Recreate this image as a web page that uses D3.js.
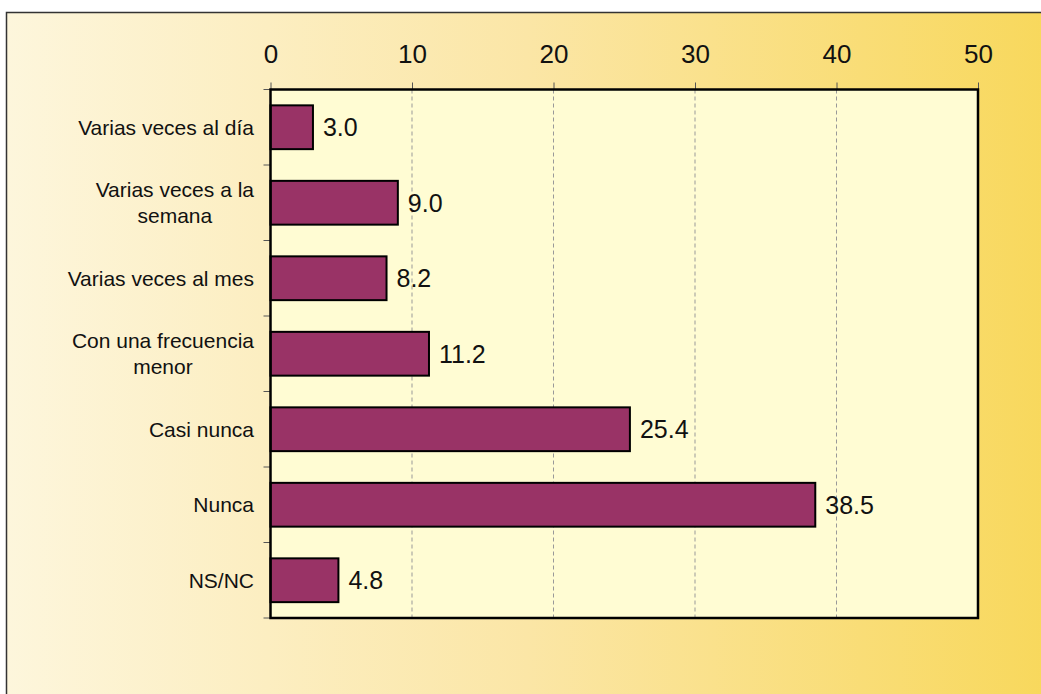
<!DOCTYPE html>
<html>
<head>
<meta charset="utf-8">
<script src="https://cdn.jsdelivr.net/npm/d3@7"></script>
<style>
  body { margin: 0; background: #fff; }
  text { font-family: Arial, "Liberation Sans", sans-serif; fill: #111; }
</style>
</head>
<body>
<div class="chart"></div>
<script>
var categories = [
  "Varias veces al día",
  "Varias veces a la|semana",
  "Varias veces al mes",
  "Con una frecuencia|menor",
  "Casi nunca",
  "Nunca",
  "NS/NC"
];
var values = [3.0, 9.0, 8.2, 11.2, 25.4, 38.5, 4.8];
var tickValues = [0, 10, 20, 30, 40, 50];

var svgWidth = 1041;
var svgHeight = 694;

var plot = { left: 270.5, right: 978, top: 89.5, bottom: 618 };

var svg = d3.select(".chart")
  .append("svg")
  .attr("width", svgWidth)
  .attr("height", svgHeight);

// background gradient
var defs = svg.append("defs");
var grad = defs.append("linearGradient")
  .attr("id", "bg")
  .attr("x1", "0%").attr("x2", "100%")
  .attr("y1", "0%").attr("y2", "0%");
grad.append("stop").attr("offset", "0%").attr("stop-color", "#fdf6dc");
grad.append("stop").attr("offset", "50%").attr("stop-color", "#fbe6a6");
grad.append("stop").attr("offset", "100%").attr("stop-color", "#f8d85c");

svg.append("rect")
  .attr("x", 6.5).attr("y", 12.5)
  .attr("width", svgWidth).attr("height", svgHeight)
  .attr("fill", "url(#bg)")
  .attr("stroke", "#333")
  .attr("stroke-width", 1.5);

// scales
var xScale = d3.scaleLinear()
  .domain([0, 50])
  .range([plot.left, plot.right]);

var yScale = d3.scaleBand()
  .domain(categories)
  .range([plot.top, plot.bottom])
  .paddingInner(0.42)
  .paddingOuter(0.21);

// plot area
svg.append("rect")
  .attr("x", plot.left).attr("y", plot.top)
  .attr("width", plot.right - plot.left)
  .attr("height", plot.bottom - plot.top)
  .attr("fill", "#fffcd3");

// gridlines
svg.append("g")
  .selectAll("line")
  .data(tickValues.slice(1, -1))
  .enter()
  .append("line")
  .attr("x1", d => xScale(d)).attr("x2", d => xScale(d))
  .attr("y1", plot.top).attr("y2", plot.bottom)
  .attr("stroke", "#999")
  .attr("stroke-width", 1)
  .attr("stroke-dasharray", "4,3");

// top axis
var topAxis = d3.axisTop(xScale)
  .tickValues(tickValues)
  .tickSizeInner(7)
  .tickSizeOuter(0)
  .tickPadding(20);

var axisG = svg.append("g")
  .attr("transform", `translate(0, ${plot.top})`)
  .call(topAxis);
axisG.select(".domain").remove();
axisG.selectAll(".tick line").attr("stroke", "#555");
axisG.selectAll(".tick text")
  .attr("font-size", 26)
  .attr("font-family", "Arial, 'Liberation Sans', sans-serif")
  .attr("fill", "#111");

// left ticks at band boundaries
var step = yScale.step();
svg.append("g")
  .selectAll("line")
  .data(d3.range(categories.length + 1))
  .enter()
  .append("line")
  .attr("x1", plot.left - 7).attr("x2", plot.left)
  .attr("y1", i => plot.top + i * step)
  .attr("y2", i => plot.top + i * step)
  .attr("stroke", "#555");

// bars
svg.append("g")
  .selectAll("rect")
  .data(values)
  .enter()
  .append("rect")
  .attr("x", xScale(0))
  .attr("y", (d, i) => yScale(categories[i]))
  .attr("width", d => xScale(d) - xScale(0))
  .attr("height", yScale.bandwidth())
  .attr("fill", "#993366")
  .attr("stroke", "#000")
  .attr("stroke-width", 2);

// value labels
svg.append("g")
  .selectAll("text")
  .data(values)
  .enter()
  .append("text")
  .attr("x", d => xScale(d) + 10)
  .attr("y", (d, i) => yScale(categories[i]) + yScale.bandwidth() / 2)
  .attr("dy", "0.36em")
  .attr("font-size", 25)
  .text(d => d.toFixed(1));

// category labels (multi-line block, right aligned, lines centred)
var labelRight = 254;
var lineH = 26;
categories.forEach(function(c) {
  var lines = c.split("|");
  var cy = yScale(c) + yScale.bandwidth() / 2;
  var g = svg.append("g");
  var texts = lines.map(function(l, j) {
    return g.append("text")
      .attr("y", cy + (j - (lines.length - 1) / 2) * lineH)
      .attr("dy", "0.36em")
      .attr("font-size", 21)
      .attr("text-anchor", "middle")
      .text(l);
  });
  var maxW = d3.max(texts, t => t.node().getComputedTextLength());
  texts.forEach(t => t.attr("x", labelRight - maxW / 2));
});

// plot border
svg.append("rect")
  .attr("x", plot.left).attr("y", plot.top)
  .attr("width", plot.right - plot.left)
  .attr("height", plot.bottom - plot.top)
  .attr("fill", "none")
  .attr("stroke", "#000")
  .attr("stroke-width", 2.5);
</script>
</body>
</html>
